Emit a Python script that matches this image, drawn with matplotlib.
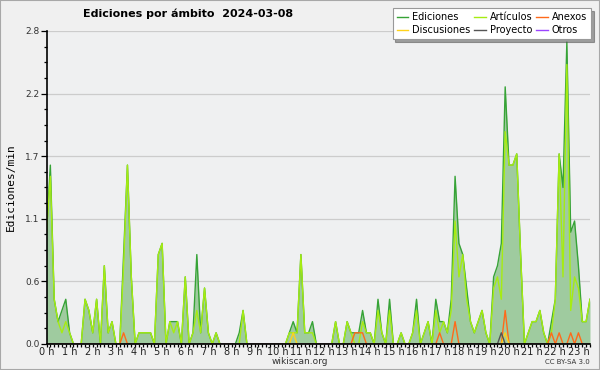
import matplotlib
matplotlib.use("Agg")
import matplotlib.pyplot as plt
import numpy as np
from matplotlib.ticker import MultipleLocator, FixedLocator

# 10-minute samples, edits per minute
ediciones = [
    1.0, 1.6, 0.4, 0.2, 0.3, 0.4, 0.1, 0.0, 0.0, 0.0,
    0.4, 0.3, 0.1, 0.4, 0.0, 0.7, 0.1, 0.2, 0.0, 0.0,
    0.8, 1.6, 0.6, 0.0, 0.1, 0.1, 0.1, 0.1, 0.0, 0.8,
    0.9, 0.0, 0.2, 0.2, 0.2, 0.0, 0.6, 0.0, 0.1, 0.8,
    0.1, 0.5, 0.1, 0.0, 0.1, 0.0, 0.0, 0.0, 0.0, 0.0,
    0.1, 0.3, 0.0, 0.0, 0.0, 0.0, 0.0, 0.0, 0.0, 0.0,
    0.0, 0.0, 0.0, 0.1, 0.2, 0.1, 0.8, 0.1, 0.1, 0.2,
    0.0, 0.0, 0.0, 0.0, 0.0, 0.2, 0.0, 0.0, 0.2, 0.1,
    0.1, 0.1, 0.3, 0.1, 0.1, 0.0, 0.4, 0.1, 0.0, 0.4,
    0.0, 0.0, 0.1, 0.0, 0.0, 0.1, 0.4, 0.0, 0.1, 0.2,
    0.0, 0.4, 0.2, 0.2, 0.1, 0.4, 1.5, 0.9, 0.8, 0.5,
    0.2, 0.1, 0.2, 0.3, 0.1, 0.0, 0.6, 0.7, 0.9, 2.3,
    1.6, 1.6, 1.7, 0.8, 0.0, 0.1, 0.2, 0.2, 0.3, 0.1,
    0.0, 0.2, 0.4, 1.7, 1.4, 2.7, 1.0, 1.1, 0.7, 0.2,
    0.2, 0.4,
]
articulos = [
    1.0, 1.5, 0.4, 0.2, 0.1, 0.2, 0.1, 0.0, 0.0, 0.0,
    0.4, 0.3, 0.1, 0.4, 0.0, 0.7, 0.1, 0.2, 0.0, 0.0,
    0.7, 1.6, 0.6, 0.0, 0.1, 0.1, 0.1, 0.1, 0.0, 0.8,
    0.9, 0.0, 0.2, 0.1, 0.2, 0.0, 0.6, 0.0, 0.1, 0.3,
    0.1, 0.5, 0.1, 0.0, 0.1, 0.0, 0.0, 0.0, 0.0, 0.0,
    0.0, 0.3, 0.0, 0.0, 0.0, 0.0, 0.0, 0.0, 0.0, 0.0,
    0.0, 0.0, 0.0, 0.1, 0.1, 0.1, 0.8, 0.1, 0.1, 0.1,
    0.0, 0.0, 0.0, 0.0, 0.0, 0.2, 0.0, 0.0, 0.2, 0.1,
    0.0, 0.0, 0.2, 0.1, 0.1, 0.0, 0.3, 0.1, 0.0, 0.3,
    0.0, 0.0, 0.1, 0.0, 0.0, 0.1, 0.3, 0.0, 0.1, 0.2,
    0.0, 0.3, 0.1, 0.2, 0.1, 0.3, 1.1, 0.6, 0.8, 0.4,
    0.2, 0.1, 0.2, 0.3, 0.1, 0.0, 0.5, 0.6, 0.4, 1.9,
    1.6, 1.6, 1.7, 0.8, 0.0, 0.1, 0.2, 0.2, 0.3, 0.1,
    0.0, 0.1, 0.4, 1.7, 0.6, 2.5, 0.3, 0.6, 0.5, 0.2,
    0.2, 0.4,
]
# sparse series: {sample index: value}
anexos_pts = {20: 0.1, 80: 0.1, 81: 0.1, 82: 0.1, 102: 0.1, 106: 0.2,
              119: 0.3, 131: 0.1, 133: 0.1, 136: 0.1, 138: 0.1}
discusiones_pts = {64: 0.1, 119: 0.1}
proyecto_pts = {118: 0.1}
otros_pts = {}

hour_labels = [f"{h} h" for h in range(24)]

n = len(ediciones)
x = np.arange(n) / 6.0


def sparse(pts):
    s = np.zeros(n)
    for k, v in pts.items():
        s[k] = v
    return s


anexos = sparse(anexos_pts)
discusiones = sparse(discusiones_pts)
proyecto = sparse(proyecto_pts)
otros = sparse(otros_pts)

fig = plt.figure(figsize=(6, 3.7), dpi=100, facecolor="#f0f0f0")
fig.patches.append(plt.Rectangle((0, 0), 1, 1, transform=fig.transFigure,
                                 fill=False, edgecolor="#a8a8a8", lw=1.5))
ax = fig.add_axes([0.0775, 0.0703, 0.9058, 0.846])
ax.set_facecolor("#eff0f1")

ax.fill_between(x, 0, ediciones, color="#9fcb9f", lw=0, zorder=1)
series = [
    ("Ediciones", ediciones, "#36a336"),
    ("Artículos", articulos, "#a6ec12"),
    ("Anexos", anexos, "#ff6a1a"),
    ("Discusiones", discusiones, "#ffd21a"),
    ("Proyecto", proyecto, "#555555"),
    ("Otros", otros, "#9b44ff"),
]
handles = {}
for name, vals, col in series:
    ln, = ax.plot(x, vals, color=col, lw=1.0, zorder=2)
    handles[name] = ln

ax.set_xlim(0, x[-1])
ax.set_ylim(0, 2.8)

ax.yaxis.set_major_locator(FixedLocator(np.linspace(0, 2.8, 6)))
ax.yaxis.set_minor_locator(MultipleLocator(0.14))
ax.yaxis.set_major_formatter(plt.FuncFormatter(lambda v, p: f"{v:.1f}"))
ax.xaxis.set_major_locator(FixedLocator(range(24)))
ax.set_xticklabels(hour_labels)
ax.xaxis.set_minor_locator(MultipleLocator(1 / 6))

ax.grid(axis="y", which="major", color="#cccccc", lw=0.9, zorder=0)
ax.set_axisbelow(True)
for s in ("top", "right"):
    ax.spines[s].set_visible(False)
for s in ("left", "bottom"):
    ax.spines[s].set_color("black")
    ax.spines[s].set_linewidth(1.2)
    ax.spines[s].set_zorder(5)

ax.tick_params(axis="y", which="major", direction="out", length=4,
               width=0.9, labelsize=6.5, pad=1, colors="black", labelcolor="#333333")
ax.tick_params(axis="x", which="major", direction="out", length=2.5,
               width=0.9, labelsize=7, pad=0, colors="black", labelcolor="#222222")
ax.tick_params(axis="both", which="minor", direction="out", length=2.5, width=0.9)
ax.set_ylabel("Ediciones/min", fontsize=8, family="DejaVu Sans Mono", labelpad=7)

fig.text(0.313, 0.962, "Ediciones por ámbito  2024-03-08", ha="center", va="center",
         fontsize=8, fontweight="bold")
fig.text(0.5, 0.022, "wikiscan.org", ha="center", va="center", fontsize=6.5,
         color="#333333")
fig.text(0.983, 0.022, "CC BY-SA 3.0", ha="right", va="center", fontsize=5,
         color="#333333")

order = ["Ediciones", "Discusiones", "Artículos", "Proyecto", "Anexos", "Otros"]
leg = fig.legend([handles[k] for k in order], order, ncol=3,
                 loc="upper right", bbox_to_anchor=(0.985, 0.978),
                 fontsize=7, frameon=True, fancybox=False, shadow=True,
                 borderpad=0.4, labelspacing=0.3, handlelength=1.2,
                 handletextpad=0.4, columnspacing=0.4, borderaxespad=0)
leg.get_frame().set_edgecolor("#999999")
leg.get_frame().set_linewidth(0.8)

fig.savefig("out.png", dpi=100, facecolor=fig.get_facecolor())
